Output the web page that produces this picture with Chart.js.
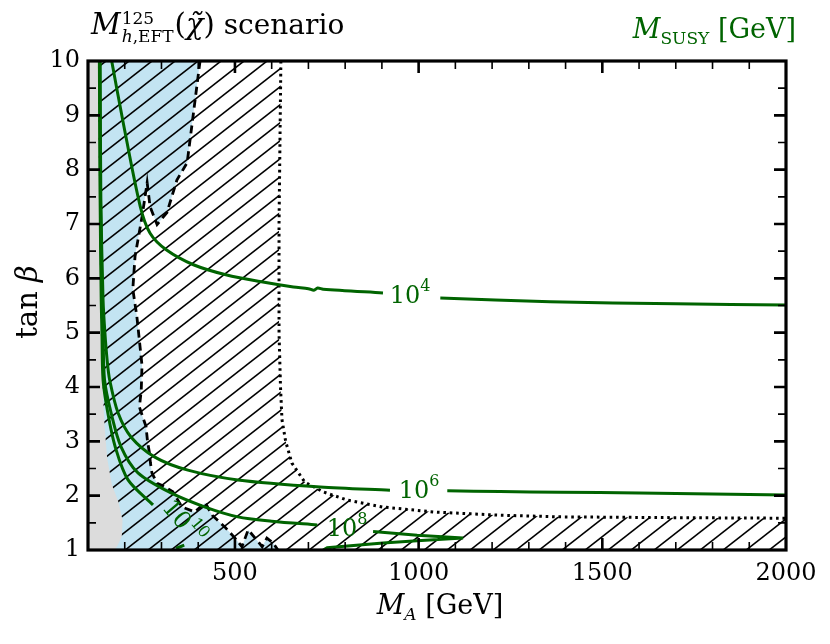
<!DOCTYPE html>
<html>
<head>
<meta charset="utf-8">
<script src="https://cdn.jsdelivr.net/npm/chart.js@4.4.1/dist/chart.umd.min.js"></script>
<style>
  html, body { margin: 0; padding: 0; background: #fff; }
</style>
</head>
<body>
<canvas id="mssmChart" width="830" height="644"></canvas>
<script>
// tick labels
const xTickValues = [500, 1000, 1500, 2000];
const yTickValues = [1, 2, 3, 4, 5, 6, 7, 8, 9, 10];

// excluded region (grey), [M_A, tan beta]
const greyEdge = [[100, 10], [127, 10], [131, 7], [135, 5], [140, 4], [145, 3.3], [152, 2.7],
  [165, 2.2], [182, 1.9], [194, 1.55], [192, 1.25], [180, 1.08], [172, 1.0], [100, 1.0]];

// dashed boundary of the blue region
const dashedEdge = [[405, 10], [370, 8.13], [342, 7.81], [315, 7.21], [288, 6.99], [269, 7.32],
  [261, 7.76], [247, 7.13], [228, 6.40], [222, 5.8], [233, 5.3], [247, 4.4], [245, 3.95],
  [240, 3.63], [258, 3.27], [262, 3.0], [267, 2.8], [270, 2.6], [274, 2.42], [288, 2.23],
  [310, 2.16], [331, 2.07], [356, 1.79], [391, 1.70], [419, 1.87], [438, 1.64], [473, 1.42],
  [500, 1.22], [519, 1.06], [536, 1.37], [555, 1.22], [574, 1.06], [587, 1.22], [604, 1.13],
  [617, 1.0]];

// dotted boundary of the hatched region
const dottedEdge = [[625, 10], [620, 7], [620, 5], [624, 4], [628, 3.4], [638, 3.0], [655, 2.6],
  [690, 2.25], [740, 2.07], [805, 1.92], [903, 1.79], [1040, 1.70], [1222, 1.64], [1385, 1.61],
  [1700, 1.595], [2000, 1.585]];

// M_SUSY contours
const susy4a = [[164.5, 10], [196, 8.86], [242, 7.33], [269, 6.83], [314, 6.52], [387, 6.25],
  [478, 6.06], [568, 5.94], [659, 5.84], [700, 5.81], [715, 5.78], [725, 5.82], [740, 5.80], [903, 5.73]];
const susy4b = [[1059, 5.64], [1358, 5.57], [1700, 5.53], [2000, 5.51]];
const susy6a = [[133, 10], [135, 7.45], [141, 5.6], [146, 5.0], [152, 4.5], [159, 4.13], [182, 3.52],
  [217, 3.08], [282, 2.71], [372, 2.47], [508, 2.29], [732, 2.16], [922, 2.10]];
const susy6b = [[1078, 2.09], [1222, 2.075], [1385, 2.065], [1600, 2.05], [1800, 2.03], [2000, 2.01]];
const susy8a = [[132, 10], [134, 7.45], [138, 5.6], [141, 5.0], [145, 4.13], [163, 3.52], [190, 2.90],
  [236, 2.42], [326, 2.05], [419, 1.79], [508, 1.61], [600, 1.53], [724, 1.46]];
const susy8b = [[876, 1.34], [996, 1.27], [1121, 1.22], [996, 1.17], [903, 1.13], [751, 1.04], [740, 1.0]];
const susy10a = [[131, 10], [133, 7.45], [136, 5.6], [138, 5.0], [141, 4.13], [154, 3.52], [174, 2.90],
  [209, 2.29], [277, 1.83]];
const susy10b = [[340, 1.03], [362, 1.09]];

// contour labels: exponent, M_A, tan beta, rotation (deg)
const contourLabels = [['4', 977, 5.71, 0], ['6', 1001, 2.12, 0], ['8', 805, 1.42, 0], ['10', 363, 1.53, 50]];

const GREEN = '#006400';
const SERIF = '"DejaVu Serif"';

const toPts = arr => arr.map(([x, y]) => ({ x, y }));

function makeHatch() {
  const w = 23, h = 18;
  const c = document.createElement('canvas');
  c.width = w; c.height = h;
  const g = c.getContext('2d');
  g.strokeStyle = '#000';
  g.lineWidth = 1.6;
  [-w, 0, w].forEach(dx => {
    g.beginPath();
    g.moveTo(dx - w, 2 * h);
    g.lineTo(dx + 2 * w, -h);
    g.stroke();
  });
  return g.createPattern(c, 'repeat');
}

function drawRuns(ctx, runs, x, y, align) {
  let total = 0;
  runs.forEach(r => { ctx.font = r[1]; total += ctx.measureText(r[0]).width; });
  let cx = align === 'right' ? x - total : align === 'center' ? x - total / 2 : x;
  runs.forEach(r => {
    ctx.font = r[1];
    ctx.fillText(r[0], cx, y + (r[2] || 0));
    cx += ctx.measureText(r[0]).width;
  });
}

const area = (data, color, order) => ({
  data: toPts(data), fill: 'shape', backgroundColor: color,
  borderColor: 'transparent', borderWidth: 0, pointRadius: 0, order
});
const curve = (data, extra) => Object.assign({
  data: toPts(data), fill: false, borderColor: GREEN, borderWidth: 3,
  pointRadius: 0, tension: 0.3, order: 1
}, extra);

const frameAndText = {
  id: 'frameAndText',
  afterDraw(chart) {
    const { ctx, chartArea: a, scales: { x, y } } = chart;
    ctx.save();
    ctx.strokeStyle = '#000';
    // inward ticks on all sides
    const tick = (px, isX, len, lw) => {
      ctx.lineWidth = lw;
      ctx.beginPath();
      if (isX) {
        ctx.moveTo(px, a.bottom); ctx.lineTo(px, a.bottom - len);
        ctx.moveTo(px, a.top); ctx.lineTo(px, a.top + len);
      } else {
        ctx.moveTo(a.left, px); ctx.lineTo(a.left + len, px);
        ctx.moveTo(a.right, px); ctx.lineTo(a.right - len, px);
      }
      ctx.stroke();
    };
    for (let v = 200; v < 2000; v += 100) {
      const major = xTickValues.includes(v);
      tick(x.getPixelForValue(v), true, major ? 12 : 8, major ? 2.6 : 1.6);
    }
    for (let v = 1.5; v < 10; v += 0.5) {
      const major = yTickValues.includes(v);
      tick(y.getPixelForValue(v), false, major ? 12 : 8, major ? 2.6 : 1.6);
    }
    ctx.lineWidth = 3.2;
    ctx.strokeRect(a.left, a.top, a.right - a.left, a.bottom - a.top);

    // title
    ctx.fillStyle = '#000';
    ctx.textBaseline = 'alphabetic';
    ctx.font = 'italic 29px ' + SERIF;
    ctx.fillText('M', 91, 34);
    let tx = 91 + ctx.measureText('M').width + 1;
    ctx.font = '17px ' + SERIF;
    const supW = ctx.measureText('125').width;
    ctx.fillText('125', tx, 24);
    ctx.font = 'italic 17px ' + SERIF;
    ctx.fillText('h', tx, 42);
    const hW = ctx.measureText('h').width;
    ctx.font = '17px ' + SERIF;
    ctx.fillText(',EFT', tx + hW, 42);
    const subW = hW + ctx.measureText(',EFT').width;
    tx += Math.max(supW, subW) + 1;
    drawRuns(ctx, [['(', '29px ' + SERIF], ['\u03C7\u0303', 'italic 29px ' + SERIF],
      [')', '29px ' + SERIF], [' scenario', '28px ' + SERIF]], tx, 34, 'left');

    // M_SUSY legend text
    ctx.fillStyle = GREEN;
    drawRuns(ctx, [['M', 'italic 27px ' + SERIF], ['SUSY', '17px ' + SERIF, 6],
      [' [GeV]', '27px ' + SERIF]], 796, 38, 'right');

    // axis titles
    ctx.fillStyle = '#000';
    drawRuns(ctx, [['M', 'italic 27px ' + SERIF], ['A', 'italic 17px ' + SERIF, 6],
      [' [GeV]', '27px ' + SERIF]], 440, 614, 'center');
    ctx.save();
    ctx.translate(37, 302);
    ctx.rotate(-Math.PI / 2);
    drawRuns(ctx, [['tan ', '29px ' + SERIF], ['\u03B2', 'italic 29px ' + SERIF]], 0, 0, 'center');
    ctx.restore();

    // contour labels
    ctx.fillStyle = GREEN;
    ctx.textBaseline = 'middle';
    contourLabels.forEach(([e, mx, tb, rot]) => {
      ctx.save();
      ctx.translate(x.getPixelForValue(mx), y.getPixelForValue(tb));
      ctx.rotate(rot * Math.PI / 180);
      drawRuns(ctx, [['10', '24px ' + SERIF, 3], [e, '16px ' + SERIF, -7]], 0, 0, 'center');
      ctx.restore();
    });
    ctx.restore();
  }
};

new Chart(document.getElementById('mssmChart').getContext('2d'), {
  type: 'line',
  data: {
    datasets: [
      area([[100, 10], ...dashedEdge, [100, 1]], '#c3e4f2', 10),
      area([[100, 10], ...dottedEdge, [2000, 1], [100, 1]], makeHatch(), 9),
      area(greyEdge, '#dcdcdc', 8),
      { data: toPts(dashedEdge), fill: false, borderColor: '#000', borderWidth: 2.8,
        borderDash: [8, 5], pointRadius: 0, order: 5 },
      { data: toPts(dottedEdge), fill: false, borderColor: '#000', borderWidth: 3,
        borderDash: [2.6, 3.8], pointRadius: 0, order: 5 },
      curve(susy4a), curve(susy4b),
      curve(susy6a), curve(susy6b),
      curve(susy8a), curve(susy8b, { tension: 0 }),
      curve(susy10a), curve(susy10b)
    ]
  },
  options: {
    responsive: false,
    animation: false,
    layout: { padding: { top: 61, right: 44, bottom: 0, left: 0 } },
    plugins: { legend: { display: false }, tooltip: { enabled: false } },
    scales: {
      x: {
        type: 'linear', min: 100, max: 2000,
        afterFit: s => { s.height = 94; },
        afterBuildTicks: s => { s.ticks = xTickValues.map(v => ({ value: v })); },
        grid: { display: false, drawTicks: false },
        border: { display: false },
        ticks: { font: { family: 'DejaVu Serif', size: 24 }, color: '#000', padding: 9,
          maxRotation: 0, callback: v => String(v) }
      },
      y: {
        type: 'linear', min: 1, max: 10,
        afterFit: s => { s.width = 88; },
        afterBuildTicks: s => { s.ticks = yTickValues.map(v => ({ value: v })); },
        grid: { display: false, drawTicks: false },
        border: { display: false },
        ticks: { font: { family: 'DejaVu Serif', size: 24 }, color: '#000', padding: 8,
          callback: v => String(v) }
      }
    }
  },
  plugins: [frameAndText]
});
</script>
</body>
</html>
